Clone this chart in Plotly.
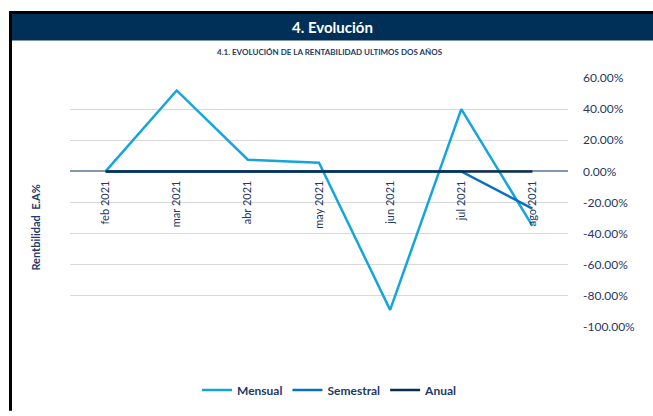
import plotly.graph_objects as go

categories = ["feb 2021", "mar 2021", "abr 2021", "may 2021", "jun 2021", "jul 2021", "ago 2021"]
mensual = [0.0, 52.0, 7.5, 5.5, -89.0, 40.0, -35.0]
semestral = [0.0, 0.0, 0.0, 0.0, 0.0, 0.0, -24.0]
anual = [0.0, 0.0, 0.0, 0.0, 0.0, 0.0, 0.0]
ytick_vals = [60, 40, 20, 0, -20, -40, -60, -80, -100]

W, H = 653, 416
L, R, T, B = 70, 568, 78, 331
def px(x):
    return (x - L) / (R - L)
def py(y):
    return (B - y) / (B - T)

navy_text = "#1f3864"
fig = go.Figure()
fig.add_trace(go.Scatter(x=categories, y=mensual, mode="lines", name="Mensual",
                         line=dict(color="#14a5dc", width=2.5)))
fig.add_trace(go.Scatter(x=categories, y=semestral, mode="lines", name="Semestral",
                         line=dict(color="#0a6fc2", width=2.5)))
fig.add_trace(go.Scatter(x=categories, y=anual, mode="lines", name="Anual",
                         line=dict(color="#0b2e4f", width=2.5)))

ymin, ymax = -100, 60
fig.update_layout(
    width=W, height=H,
    margin=dict(l=L, r=W - R, t=T, b=H - B, pad=0),
    paper_bgcolor="white", plot_bgcolor="white",
    font=dict(family="Lato, Open Sans, sans-serif", color=navy_text),
    showlegend=True,
    legend=dict(orientation="h", x=px(330), xanchor="center", y=py(395), yanchor="middle",
                font=dict(size=12, color=navy_text, family="Lato, sans-serif", weight="bold"),
                itemwidth=30, tracegroupgap=0, bgcolor="rgba(0,0,0,0)"),
    xaxis=dict(type="category", range=[-0.5, 6.5], anchor="free",
               position=(0 - ymin) / (ymax - ymin), showline=False, showgrid=False,
               ticks="", tickangle=-90, tickfont=dict(size=11, color=navy_text),
               ticklabelstandoff=6, zeroline=False),
    yaxis=dict(range=[ymin, ymax], side="right", tickvals=ytick_vals,
               ticktext=[f"{v:.2f}%" for v in ytick_vals],
               showgrid=True, gridcolor="#d9d9d9", gridwidth=1,
               zeroline=True, zerolinecolor="#8497b0", zerolinewidth=2,
               showline=False, ticks="", ticklabelstandoff=14,
               tickfont=dict(size=12, color=navy_text)),
    shapes=[
        dict(type="rect", xref="paper", yref="paper", x0=px(12), x1=px(653), y0=py(13), y1=py(40),
             fillcolor="#003057", line=dict(width=0), layer="below"),
        dict(type="rect", xref="paper", yref="paper", x0=px(9), x1=px(653), y0=py(10), y1=py(13),
             fillcolor="black", line=dict(width=0), layer="below"),
        dict(type="rect", xref="paper", yref="paper", x0=px(9), x1=px(12), y0=py(10), y1=py(416),
             fillcolor="black", line=dict(width=0), layer="below"),
    ],
    annotations=[
        dict(text="<b>4. Evolución</b>", xref="paper", yref="paper", x=px(332), y=py(26),
             showarrow=False, font=dict(size=15, color="white", family="Lato, sans-serif"),
             xanchor="center", yanchor="middle"),
        dict(text="<b>4.1. EVOLUCIÓN DE LA RENTABILIDAD ULTIMOS DOS AÑOS</b>", xref="paper", yref="paper",
             x=px(330), y=py(52), showarrow=False,
             font=dict(size=8, color=navy_text, family="Lato, sans-serif"),
             xanchor="center", yanchor="middle"),
        dict(text="<b>Rentbilidad  E.A%</b>", xref="paper", yref="paper", x=px(36), y=py(230),
             showarrow=False, textangle=-90,
             font=dict(size=11, color=navy_text, family="Lato, sans-serif"),
             xanchor="center", yanchor="middle"),
    ],
)

post = (
    "document.documentElement.style.margin='0';"
    "document.documentElement.style.padding='0';"
    "document.documentElement.style.overflow='hidden';"
    "document.documentElement.style.height='416px';"
    "document.body.style.margin='0';"
    "document.body.style.padding='0';"
    "document.body.style.overflow='hidden';"
    "document.body.style.height='416px';"
)
fig.write_html("out.html", config={"displayModeBar": False, "responsive": False},
               post_script=post)
